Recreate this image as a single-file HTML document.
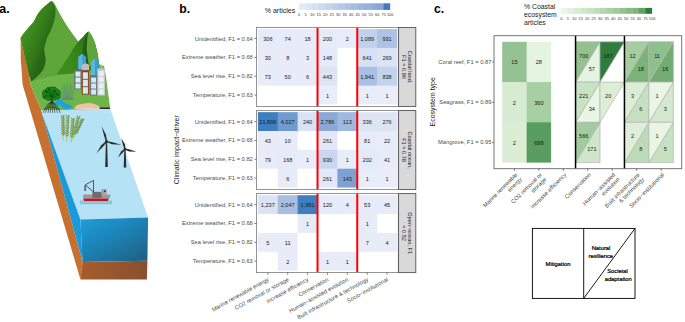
<!DOCTYPE html>
<html><head><meta charset="utf-8"><style>
html,body{margin:0;padding:0;background:#fff;width:685px;height:322px;overflow:hidden;}
svg{display:block;}
text{font-family:"Liberation Sans", sans-serif;}
</style></head><body>
<svg width="685" height="322" viewBox="0 0 685 322">
<rect width="685" height="322" fill="#fff"/>
<g id="panelA">
<text x="-0.70" y="13.10" font-size="12.4" fill="#000" text-anchor="start" font-weight="bold">a.</text>
<defs>
<linearGradient id="frontG" x1="0.1" y1="0" x2="0.9" y2="1">
<stop offset="0" stop-color="#1e9cd8"/><stop offset="0.4" stop-color="#1b86bb"/><stop offset="0.75" stop-color="#1e709a"/><stop offset="1" stop-color="#1e6184"/>
</linearGradient>
<linearGradient id="soilG" x1="0" y1="0" x2="1" y2="0">
<stop offset="0" stop-color="#a65d2c"/><stop offset="1" stop-color="#88502f"/>
</linearGradient>
<linearGradient id="m1G" gradientUnits="userSpaceOnUse" x1="24" y1="38" x2="47" y2="47">
<stop offset="0" stop-color="#3f8e21"/><stop offset="0.55" stop-color="#337c19"/><stop offset="1" stop-color="#276414"/>
</linearGradient>
<linearGradient id="m2G" gradientUnits="userSpaceOnUse" x1="62" y1="68" x2="88" y2="46">
<stop offset="0" stop-color="#3e8d1c"/><stop offset="0.5" stop-color="#368619"/><stop offset="1" stop-color="#2d7716"/>
</linearGradient>
<linearGradient id="m2B" gradientUnits="userSpaceOnUse" x1="77" y1="0" x2="87.5" y2="0">
<stop offset="0" stop-color="#225c12" stop-opacity="0"/><stop offset="0.55" stop-color="#225c12" stop-opacity="0.75"/><stop offset="1" stop-color="#1f5711" stop-opacity="1"/>
</linearGradient>
</defs>
<path d="M20.6,38 L25.5,60 L29,75 L30.5,84.3 L41.2,110 L82.6,262 L80.5,279.6 L22.5,84.3 L22,75 L20.8,60 Z" fill="#c6712f"/>
<path d="M29,75 L28,70 L60,66 L80,62 L98.8,64 L104,66 L105.7,75 L110.3,108.9 L41.2,110.5 L41.2,110 L30.5,84.3 Z" fill="#6db449"/>
<path d="M20.6,38 C23.5,33.5 28,28 32.3,23.6 C34.5,20.5 35.8,17.5 37.2,14.9 C39.2,11.5 41.2,9.2 43.4,7.4 C46,5.2 49,2.6 51.7,1 C53.5,2 55.5,5 57.1,8.7 C60,14 63,19.5 65.8,23.9 C69,29 72.5,33.5 75.6,38 L80,43.5 L80,72 C76,72.5 70,73.5 65,74.2 C60,74.8 56,75.4 52.2,76.2 C48,77 44.5,77.6 41.3,78.4 C37,79.5 34,80.5 31.5,81.6 L29,75 L25.5,60 Z" fill="#5ea63a"/>
<path d="M20.6,38 C23.5,33.5 28,28 32.3,23.6 C34.5,20.5 35.8,17.5 37.2,14.9 C39.2,11.5 41.2,9.2 43.4,7.4 C46,5.2 49,2.6 51.7,1 C53.5,3 55.5,6 55.6,10 C55.8,17 53.5,24 51,30 C48.5,35 46.5,38 46.1,41.2 C45,45 44,48 44.2,50.5 C44.5,54 45.8,57 45.7,59.8 C45.6,63 45,66 43.5,69.1 C41.5,73 36,78 31.5,81.6 L29,75 L25.5,60 Z" fill="url(#m1G)"/>
<path d="M88.4,31.3 C86.5,32.5 85,34.5 83.5,36.2 C82,37.8 80.5,39.2 79.3,40.4 C77,43 75.3,45.5 73.7,47.9 C72.2,50.2 71,52.6 69.6,55 C67.5,58.5 65.2,61.8 62.9,65 C60.8,68.2 58.6,71.4 56.5,74.6 C60.5,74.5 64.5,74.3 68.5,74 C71,73.6 73,73 75,72.4 C83,71 91,70.5 98.8,70 L98.8,62.2 C98.5,59 98,56 97.5,52.9 C96.5,48 95.5,44 93.8,39.9 C92,36 90,33 88.2,31.5 Z" fill="url(#m2G)"/>
<path d="M88.4,31.3 C86,36 83.5,42 82.5,48 C81.5,54 82,60 83,66 L89,66 C88.5,62 87.8,59 87.4,55.3 C86.9,52 86.6,49 86.8,46.6 C87,43 87.2,40 87.4,37.9 C87.8,35 88.2,33 88.4,31.3 Z" fill="url(#m2B)"/>
<path d="M88.4,31.3 C90.5,33 92,35.5 93,37.9 C94.5,41 95.5,44.5 96.1,47.9 C97,51 97.6,54.5 98,57.8 L98.8,66 L89,66 C88.5,62 87.8,59 87.4,55.3 C86.9,52 86.6,49 86.8,46.6 C87,43 87.2,40 87.4,37.9 C87.8,35 88.2,33 88.4,31.3 Z" fill="#5ea63a"/>
<path d="M41.3,110.5 L110.3,108.9 L148.1,217.4 L80.4,219.6 L42.4,114.5 Z" fill="#b5e2f5"/>
<path d="M42.4,114.5 L80.4,219.6 L82.6,262 Z" fill="#1a9ad8"/>
<path d="M80.4,219.6 L148.1,217.4 L147.4,260.8 L82.6,262 Z" fill="url(#frontG)"/>
<path d="M82.6,262 L147.4,260.8 L146.9,279.4 L80.5,279.6 Z" fill="url(#soilG)"/>
<path d="M74.3,109.1 C74.8,106.5 76.5,104.8 79,104.5 C81,104.3 82.5,104 84.5,103.6 C86.5,103.2 88,102.9 89.5,103.1 C92,103.4 95,104.2 97.5,105.2 C99,105.9 99.9,107 99.9,109.1 Z" fill="#efc2a4"/>
<path d="M74.3,109.1 C80,108 92,108 99.9,109.1 Z" fill="#f6dccb"/>
<path d="M99.9,107.5 L109.8,107.5 L110,109.1 L99.9,109.1 Z" fill="#3a2628"/>
<path d="M54.3,103.4 C55.5,101 58,98.5 59.7,97.9 C61,98 61.5,99.5 61.4,100.6 C63.5,102.5 66,103.5 68.4,104.5 C70.5,105.3 72,106 71.7,107.2 C71,108.8 69.5,109.3 68.4,109.1 C66.5,109 65,108.8 64.1,108.3 C62.5,107.3 61.5,106 60.8,105.5 C58.5,105.2 56.5,105.5 55.4,105.2 C54.5,104.8 54,104 54.3,103.4 Z" fill="#1ba2df"/>
<path d="M61.5,100 C62,98 63,97 65,96.5 L70,96.5 C72,97 73,98 73.5,100 Z" fill="#5e8f6e"/>
<path d="M62.5,99 Q61.0,93.5 61.5,88" stroke="#5f9676" stroke-width="0.8" fill="none"/>
<path d="M63.5,99 Q63.25,91.5 63,84" stroke="#5f9676" stroke-width="0.8" fill="none"/>
<path d="M64.5,99 Q66.0,90.75 65.5,82.5" stroke="#5f9676" stroke-width="0.8" fill="none"/>
<path d="M65.5,99 Q64.0,92.5 64.5,86" stroke="#5f9676" stroke-width="0.8" fill="none"/>
<path d="M66.5,99 Q68.0,91.0 67.5,83" stroke="#5f9676" stroke-width="0.8" fill="none"/>
<path d="M67.5,99 Q70.0,92.0 69.5,85" stroke="#5f9676" stroke-width="0.8" fill="none"/>
<path d="M68.5,99 Q70.5,90.75 70.5,82.5" stroke="#5f9676" stroke-width="0.8" fill="none"/>
<path d="M69.5,99 Q72.25,92.5 72,86" stroke="#5f9676" stroke-width="0.8" fill="none"/>
<path d="M70.5,99 Q73.0,94.0 73.5,89" stroke="#5f9676" stroke-width="0.8" fill="none"/>
<path d="M71.5,99 Q73.15,95.5 73.8,92" stroke="#5f9676" stroke-width="0.8" fill="none"/>
<path d="M66,99 Q66.0,93.5 66,88" stroke="#5f9676" stroke-width="0.8" fill="none"/>
<path d="M68,99 Q67.75,94.0 67.5,89" stroke="#5f9676" stroke-width="0.8" fill="none"/>
<path d="M51.8,101.5 Q47.0,103.5 43,112.8" stroke="#1e1e1e" stroke-width="0.6" fill="none"/>
<path d="M51.8,101.5 Q48.3,103.5 45.5,112.8" stroke="#1e1e1e" stroke-width="0.6" fill="none"/>
<path d="M51.8,101.5 Q49.7,103.5 48,112.8" stroke="#1e1e1e" stroke-width="0.6" fill="none"/>
<path d="M51.8,101.5 Q51.0,103.5 50.3,112.8" stroke="#1e1e1e" stroke-width="0.6" fill="none"/>
<path d="M51.8,101.5 Q52.3,103.5 52.7,112.8" stroke="#1e1e1e" stroke-width="0.6" fill="none"/>
<path d="M51.8,101.5 Q53.6,103.5 55,112.8" stroke="#1e1e1e" stroke-width="0.6" fill="none"/>
<path d="M51.8,101.5 Q54.9,103.5 57.5,112.8" stroke="#1e1e1e" stroke-width="0.6" fill="none"/>
<path d="M51.8,101.5 Q56.5,103.5 60.3,112.8" stroke="#1e1e1e" stroke-width="0.6" fill="none"/>
<path d="M44,110 Q51.8,104 60,110" stroke="#1e1e1e" stroke-width="0.5" fill="none"/>
<path d="M50.9,95.5 L52.4,95.5 L52.7,103 L50.8,103 Z" fill="#4a2c14"/>
<path d="M43,96 C41.5,93 43,90 45.5,89.5 C46.5,87.5 49,86.8 51,87.5 C53,86.5 56,87 57,89 C59.5,89.5 61,92 60,94.5 C61,97 59,99.5 56.5,99 C55,100.5 52.5,100.5 51.5,99.5 C49.5,100.8 46.5,100.5 45.5,98.8 C43.5,99 42.3,97.5 43,96 Z" fill="#188519" stroke="#0b4d0e" stroke-width="0.6"/>
<path d="M51.7,96.5 L47,91.5" stroke="#0a4a0c" stroke-width="0.7"/>
<path d="M51.7,96.5 L49.5,89.5" stroke="#0a4a0c" stroke-width="0.7"/>
<path d="M51.7,96.5 L54,90" stroke="#0a4a0c" stroke-width="0.7"/>
<path d="M51.7,96.5 L57,93" stroke="#0a4a0c" stroke-width="0.7"/>
<path d="M51.7,96.5 L45.5,95.5" stroke="#0a4a0c" stroke-width="0.7"/>
<path d="M51.7,96.5 L56,97" stroke="#0a4a0c" stroke-width="0.7"/>
<circle cx="46.5" cy="92" r="1.4" fill="#0c5a10"/>
<circle cx="49" cy="89.5" r="1.2" fill="#0c5a10"/>
<circle cx="54.5" cy="91" r="1.5" fill="#0c5a10"/>
<circle cx="57.5" cy="94.5" r="1.3" fill="#0c5a10"/>
<circle cx="52" cy="97.5" r="1.2" fill="#0c5a10"/>
<circle cx="45" cy="96.5" r="1.0" fill="#0c5a10"/>
<path d="M78.3,57 L82.4,53.7 L86.1,57 L86.1,74 L78.3,74 Z" fill="#3a9fcf"/>
<path d="M78.3,57 L82.4,53.7 L82.4,74 L78.3,74 Z" fill="#5cb6de"/>
<path d="M91,61.5 L95,58.3 L98.8,61.5 L98.8,78 L91,78 Z" fill="#3a9fcf"/>
<path d="M91,61.5 L95,58.3 L95,78 L91,78 Z" fill="#5cb6de"/>
<path d="M81.7,65 Q85.4,62.2 89.1,65 L89.1,80 L81.7,80 Z" fill="#bdbdbd"/>
<rect x="74.2" y="69.3" width="7.5" height="20.1" fill="#6b6b6b"/>
<rect x="74.2" y="69.3" width="7.5" height="1.6" fill="#6b6b6b" opacity="0.7"/>
<rect x="75.40" y="71.50" width="5.10" height="5.07" fill="#d3ebf5"/>
<rect x="75.40" y="77.47" width="5.10" height="5.07" fill="#d3ebf5"/>
<rect x="75.40" y="83.43" width="5.10" height="5.07" fill="#d3ebf5"/>
<rect x="81.7" y="70.1" width="7.4" height="24.5" fill="#8a4a25"/>
<rect x="81.7" y="70.1" width="7.4" height="1.6" fill="#8a4a25" opacity="0.7"/>
<rect x="82.90" y="72.30" width="5.00" height="6.53" fill="#d3ebf5"/>
<rect x="82.90" y="79.73" width="5.00" height="6.53" fill="#d3ebf5"/>
<rect x="82.90" y="87.17" width="5.00" height="6.53" fill="#d3ebf5"/>
<rect x="89.9" y="75.3" width="7.4" height="20.2" fill="#707070"/>
<rect x="89.9" y="75.3" width="7.4" height="1.6" fill="#707070" opacity="0.7"/>
<rect x="91.10" y="77.50" width="5.00" height="5.10" fill="#cfe8f3"/>
<rect x="91.10" y="83.50" width="5.00" height="5.10" fill="#cfe8f3"/>
<rect x="91.10" y="89.50" width="5.00" height="5.10" fill="#cfe8f3"/>
<rect x="97.3" y="68.6" width="7.7" height="26.9" fill="#c6c6c6"/>
<rect x="97.3" y="68.6" width="7.7" height="1.6" fill="#c6c6c6" opacity="0.7"/>
<rect x="98.50" y="70.80" width="5.30" height="5.27" fill="#e2f1f8"/>
<rect x="98.50" y="76.97" width="5.30" height="5.27" fill="#e2f1f8"/>
<rect x="98.50" y="83.15" width="5.30" height="5.27" fill="#e2f1f8"/>
<rect x="98.50" y="89.32" width="5.30" height="5.27" fill="#e2f1f8"/>
<rect x="100.9" y="65.4" width="0.8" height="3.4" fill="#c6c6c6"/>
<path d="M63.3,140.5 Q62.2,128.5 62.7,116.5" stroke="#a9b64e" stroke-width="0.7" fill="none"/>
<ellipse cx="62.25" cy="134.10" rx="0.55" ry="1.5" fill="#86a046" transform="rotate(-36 62.25 134.10)"/>
<ellipse cx="64.05" cy="134.10" rx="0.55" ry="1.5" fill="#5b8446" transform="rotate(34 64.05 134.10)"/>
<ellipse cx="62.19" cy="131.85" rx="0.55" ry="1.5" fill="#86a046" transform="rotate(-36 62.19 131.85)"/>
<ellipse cx="63.99" cy="131.85" rx="0.55" ry="1.5" fill="#5b8446" transform="rotate(34 63.99 131.85)"/>
<ellipse cx="62.14" cy="129.60" rx="0.55" ry="1.5" fill="#86a046" transform="rotate(-36 62.14 129.60)"/>
<ellipse cx="63.94" cy="129.60" rx="0.55" ry="1.5" fill="#5b8446" transform="rotate(34 63.94 129.60)"/>
<ellipse cx="62.08" cy="127.35" rx="0.55" ry="1.5" fill="#86a046" transform="rotate(-36 62.08 127.35)"/>
<ellipse cx="63.88" cy="127.35" rx="0.55" ry="1.5" fill="#5b8446" transform="rotate(34 63.88 127.35)"/>
<ellipse cx="62.02" cy="125.10" rx="0.55" ry="1.5" fill="#86a046" transform="rotate(-36 62.02 125.10)"/>
<ellipse cx="63.82" cy="125.10" rx="0.55" ry="1.5" fill="#5b8446" transform="rotate(34 63.82 125.10)"/>
<ellipse cx="61.97" cy="122.85" rx="0.55" ry="1.5" fill="#86a046" transform="rotate(-36 61.97 122.85)"/>
<ellipse cx="63.77" cy="122.85" rx="0.55" ry="1.5" fill="#5b8446" transform="rotate(34 63.77 122.85)"/>
<ellipse cx="61.91" cy="120.60" rx="0.55" ry="1.5" fill="#86a046" transform="rotate(-36 61.91 120.60)"/>
<ellipse cx="63.71" cy="120.60" rx="0.55" ry="1.5" fill="#5b8446" transform="rotate(34 63.71 120.60)"/>
<ellipse cx="61.86" cy="118.35" rx="0.55" ry="1.5" fill="#86a046" transform="rotate(-36 61.86 118.35)"/>
<ellipse cx="63.66" cy="118.35" rx="0.55" ry="1.5" fill="#5b8446" transform="rotate(34 63.66 118.35)"/>
<ellipse cx="61.80" cy="116.10" rx="0.55" ry="1.5" fill="#86a046" transform="rotate(-36 61.80 116.10)"/>
<ellipse cx="63.60" cy="116.10" rx="0.55" ry="1.5" fill="#5b8446" transform="rotate(34 63.60 116.10)"/>
<path d="M66.6,142 Q66.4,129.2 67.7,116.5" stroke="#a9b64e" stroke-width="0.7" fill="none"/>
<ellipse cx="65.97" cy="135.22" rx="0.55" ry="1.5" fill="#86a046" transform="rotate(-33 65.97 135.22)"/>
<ellipse cx="67.78" cy="135.22" rx="0.55" ry="1.5" fill="#5b8446" transform="rotate(37 67.78 135.22)"/>
<ellipse cx="66.08" cy="132.83" rx="0.55" ry="1.5" fill="#86a046" transform="rotate(-33 66.08 132.83)"/>
<ellipse cx="67.88" cy="132.83" rx="0.55" ry="1.5" fill="#5b8446" transform="rotate(37 67.88 132.83)"/>
<ellipse cx="66.18" cy="130.44" rx="0.55" ry="1.5" fill="#86a046" transform="rotate(-33 66.18 130.44)"/>
<ellipse cx="67.98" cy="130.44" rx="0.55" ry="1.5" fill="#5b8446" transform="rotate(37 67.98 130.44)"/>
<ellipse cx="66.28" cy="128.05" rx="0.55" ry="1.5" fill="#86a046" transform="rotate(-33 66.28 128.05)"/>
<ellipse cx="68.08" cy="128.05" rx="0.55" ry="1.5" fill="#5b8446" transform="rotate(37 68.08 128.05)"/>
<ellipse cx="66.39" cy="125.66" rx="0.55" ry="1.5" fill="#86a046" transform="rotate(-33 66.39 125.66)"/>
<ellipse cx="68.19" cy="125.66" rx="0.55" ry="1.5" fill="#5b8446" transform="rotate(37 68.19 125.66)"/>
<ellipse cx="66.49" cy="123.27" rx="0.55" ry="1.5" fill="#86a046" transform="rotate(-33 66.49 123.27)"/>
<ellipse cx="68.29" cy="123.27" rx="0.55" ry="1.5" fill="#5b8446" transform="rotate(37 68.29 123.27)"/>
<ellipse cx="66.59" cy="120.88" rx="0.55" ry="1.5" fill="#86a046" transform="rotate(-33 66.59 120.88)"/>
<ellipse cx="68.39" cy="120.88" rx="0.55" ry="1.5" fill="#5b8446" transform="rotate(37 68.39 120.88)"/>
<ellipse cx="66.70" cy="118.49" rx="0.55" ry="1.5" fill="#86a046" transform="rotate(-33 66.70 118.49)"/>
<ellipse cx="68.50" cy="118.49" rx="0.55" ry="1.5" fill="#5b8446" transform="rotate(37 68.50 118.49)"/>
<ellipse cx="66.80" cy="116.10" rx="0.55" ry="1.5" fill="#86a046" transform="rotate(-33 66.80 116.10)"/>
<ellipse cx="68.60" cy="116.10" rx="0.55" ry="1.5" fill="#5b8446" transform="rotate(37 68.60 116.10)"/>
<path d="M71.2,142.5 Q71.2,130.9 72.8,119.3" stroke="#a9b64e" stroke-width="0.7" fill="none"/>
<ellipse cx="70.70" cy="136.30" rx="0.55" ry="1.5" fill="#86a046" transform="rotate(-31 70.70 136.30)"/>
<ellipse cx="72.50" cy="136.30" rx="0.55" ry="1.5" fill="#5b8446" transform="rotate(39 72.50 136.30)"/>
<ellipse cx="70.85" cy="134.12" rx="0.55" ry="1.5" fill="#86a046" transform="rotate(-31 70.85 134.12)"/>
<ellipse cx="72.65" cy="134.12" rx="0.55" ry="1.5" fill="#5b8446" transform="rotate(39 72.65 134.12)"/>
<ellipse cx="71.00" cy="131.95" rx="0.55" ry="1.5" fill="#86a046" transform="rotate(-31 71.00 131.95)"/>
<ellipse cx="72.80" cy="131.95" rx="0.55" ry="1.5" fill="#5b8446" transform="rotate(39 72.80 131.95)"/>
<ellipse cx="71.15" cy="129.78" rx="0.55" ry="1.5" fill="#86a046" transform="rotate(-31 71.15 129.78)"/>
<ellipse cx="72.95" cy="129.78" rx="0.55" ry="1.5" fill="#5b8446" transform="rotate(39 72.95 129.78)"/>
<ellipse cx="71.30" cy="127.60" rx="0.55" ry="1.5" fill="#86a046" transform="rotate(-31 71.30 127.60)"/>
<ellipse cx="73.10" cy="127.60" rx="0.55" ry="1.5" fill="#5b8446" transform="rotate(39 73.10 127.60)"/>
<ellipse cx="71.45" cy="125.42" rx="0.55" ry="1.5" fill="#86a046" transform="rotate(-31 71.45 125.42)"/>
<ellipse cx="73.25" cy="125.42" rx="0.55" ry="1.5" fill="#5b8446" transform="rotate(39 73.25 125.42)"/>
<ellipse cx="71.60" cy="123.25" rx="0.55" ry="1.5" fill="#86a046" transform="rotate(-31 71.60 123.25)"/>
<ellipse cx="73.40" cy="123.25" rx="0.55" ry="1.5" fill="#5b8446" transform="rotate(39 73.40 123.25)"/>
<ellipse cx="71.75" cy="121.07" rx="0.55" ry="1.5" fill="#86a046" transform="rotate(-31 71.75 121.07)"/>
<ellipse cx="73.55" cy="121.07" rx="0.55" ry="1.5" fill="#5b8446" transform="rotate(39 73.55 121.07)"/>
<ellipse cx="71.90" cy="118.90" rx="0.55" ry="1.5" fill="#86a046" transform="rotate(-31 71.90 118.90)"/>
<ellipse cx="73.70" cy="118.90" rx="0.55" ry="1.5" fill="#5b8446" transform="rotate(39 73.70 118.90)"/>
<path d="M72.3,139.5 Q74.5,128.3 78.4,117.2" stroke="#a9b64e" stroke-width="0.7" fill="none"/>
<ellipse cx="72.92" cy="133.53" rx="0.55" ry="1.5" fill="#86a046" transform="rotate(-20 72.92 133.53)"/>
<ellipse cx="74.73" cy="133.53" rx="0.55" ry="1.5" fill="#5b8446" transform="rotate(50 74.73 133.53)"/>
<ellipse cx="73.50" cy="131.43" rx="0.55" ry="1.5" fill="#86a046" transform="rotate(-20 73.50 131.43)"/>
<ellipse cx="75.30" cy="131.43" rx="0.55" ry="1.5" fill="#5b8446" transform="rotate(50 75.30 131.43)"/>
<ellipse cx="74.07" cy="129.34" rx="0.55" ry="1.5" fill="#86a046" transform="rotate(-20 74.07 129.34)"/>
<ellipse cx="75.87" cy="129.34" rx="0.55" ry="1.5" fill="#5b8446" transform="rotate(50 75.87 129.34)"/>
<ellipse cx="74.64" cy="127.25" rx="0.55" ry="1.5" fill="#86a046" transform="rotate(-20 74.64 127.25)"/>
<ellipse cx="76.44" cy="127.25" rx="0.55" ry="1.5" fill="#5b8446" transform="rotate(50 76.44 127.25)"/>
<ellipse cx="75.21" cy="125.16" rx="0.55" ry="1.5" fill="#86a046" transform="rotate(-20 75.21 125.16)"/>
<ellipse cx="77.01" cy="125.16" rx="0.55" ry="1.5" fill="#5b8446" transform="rotate(50 77.01 125.16)"/>
<ellipse cx="75.78" cy="123.07" rx="0.55" ry="1.5" fill="#86a046" transform="rotate(-20 75.78 123.07)"/>
<ellipse cx="77.58" cy="123.07" rx="0.55" ry="1.5" fill="#5b8446" transform="rotate(50 77.58 123.07)"/>
<ellipse cx="76.36" cy="120.98" rx="0.55" ry="1.5" fill="#86a046" transform="rotate(-20 76.36 120.98)"/>
<ellipse cx="78.16" cy="120.98" rx="0.55" ry="1.5" fill="#5b8446" transform="rotate(50 78.16 120.98)"/>
<ellipse cx="76.93" cy="118.89" rx="0.55" ry="1.5" fill="#86a046" transform="rotate(-20 76.93 118.89)"/>
<ellipse cx="78.73" cy="118.89" rx="0.55" ry="1.5" fill="#5b8446" transform="rotate(50 78.73 118.89)"/>
<ellipse cx="77.50" cy="116.80" rx="0.55" ry="1.5" fill="#86a046" transform="rotate(-20 77.50 116.80)"/>
<ellipse cx="79.30" cy="116.80" rx="0.55" ry="1.5" fill="#5b8446" transform="rotate(50 79.30 116.80)"/>
<path d="M74,137.5 Q77.4,128.7 82.3,119.8" stroke="#a9b64e" stroke-width="0.7" fill="none"/>
<ellipse cx="75.17" cy="132.67" rx="0.55" ry="1.5" fill="#86a046" transform="rotate(-10 75.17 132.67)"/>
<ellipse cx="76.98" cy="132.67" rx="0.55" ry="1.5" fill="#5b8446" transform="rotate(60 76.98 132.67)"/>
<ellipse cx="75.95" cy="131.02" rx="0.55" ry="1.5" fill="#86a046" transform="rotate(-10 75.95 131.02)"/>
<ellipse cx="77.75" cy="131.02" rx="0.55" ry="1.5" fill="#5b8446" transform="rotate(60 77.75 131.02)"/>
<ellipse cx="76.73" cy="129.36" rx="0.55" ry="1.5" fill="#86a046" transform="rotate(-10 76.73 129.36)"/>
<ellipse cx="78.53" cy="129.36" rx="0.55" ry="1.5" fill="#5b8446" transform="rotate(60 78.53 129.36)"/>
<ellipse cx="77.51" cy="127.70" rx="0.55" ry="1.5" fill="#86a046" transform="rotate(-10 77.51 127.70)"/>
<ellipse cx="79.31" cy="127.70" rx="0.55" ry="1.5" fill="#5b8446" transform="rotate(60 79.31 127.70)"/>
<ellipse cx="78.29" cy="126.04" rx="0.55" ry="1.5" fill="#86a046" transform="rotate(-10 78.29 126.04)"/>
<ellipse cx="80.09" cy="126.04" rx="0.55" ry="1.5" fill="#5b8446" transform="rotate(60 80.09 126.04)"/>
<ellipse cx="79.07" cy="124.38" rx="0.55" ry="1.5" fill="#86a046" transform="rotate(-10 79.07 124.38)"/>
<ellipse cx="80.87" cy="124.38" rx="0.55" ry="1.5" fill="#5b8446" transform="rotate(60 80.87 124.38)"/>
<ellipse cx="79.84" cy="122.72" rx="0.55" ry="1.5" fill="#86a046" transform="rotate(-10 79.84 122.72)"/>
<ellipse cx="81.64" cy="122.72" rx="0.55" ry="1.5" fill="#5b8446" transform="rotate(60 81.64 122.72)"/>
<ellipse cx="80.62" cy="121.06" rx="0.55" ry="1.5" fill="#86a046" transform="rotate(-10 80.62 121.06)"/>
<ellipse cx="82.42" cy="121.06" rx="0.55" ry="1.5" fill="#5b8446" transform="rotate(60 82.42 121.06)"/>
<ellipse cx="81.40" cy="119.40" rx="0.55" ry="1.5" fill="#86a046" transform="rotate(-10 81.40 119.40)"/>
<ellipse cx="83.20" cy="119.40" rx="0.55" ry="1.5" fill="#5b8446" transform="rotate(60 83.20 119.40)"/>
<path d="M105.9,141.5 L107.1,141.5 L107.8,167 L105.2,167 Z" fill="#2b2b2b"/>
<path d="M107.07,141.32 L106.01,134.97 L101.7,126.3 L104.01,135.60 L105.93,141.68 Z" fill="#2b2b2b"/>
<path d="M106.37,142.09 L112.09,144.28 L121.3,144.8 L112.55,142.23 L106.63,140.91 Z" fill="#2b2b2b"/>
<path d="M106.04,141.11 L101.28,145.33 L96.3,153.5 L102.88,146.69 L106.96,141.89 Z" fill="#2b2b2b"/>
<circle cx="106.5" cy="141.5" r="1.4" fill="#2b2b2b"/>
<path d="M124.4,149.1 L125.6,149.1 L126.3,167.6 L123.7,167.6 Z" fill="#2b2b2b"/>
<path d="M125.57,148.91 L124.94,144.29 L121.3,138.3 L122.95,144.97 L124.43,149.29 Z" fill="#2b2b2b"/>
<path d="M124.87,149.69 L129.27,151.60 L136.5,151.7 L129.73,149.55 L125.13,148.51 Z" fill="#2b2b2b"/>
<path d="M124.54,148.71 L121.05,151.45 L118,157.4 L122.66,152.81 L125.46,149.49 Z" fill="#2b2b2b"/>
<circle cx="125" cy="149.1" r="1.4" fill="#2b2b2b"/>
<rect x="80" y="200.5" width="32" height="3.8" fill="#86c8da"/>
<path d="M83.2,194.6 L110.9,194.6 L109.5,198.4 L83.2,198.4 Z" fill="#9a9a9a"/>
<path d="M83.2,198.4 L108.7,198.4 L108,201 L84,201 Z" fill="#c4161c"/>
<rect x="92.4" y="191.8" width="9.2" height="6.2" fill="#6e6e6e"/>
<rect x="101.6" y="189" width="4.9" height="5.6" fill="#a0a0a0"/>
<rect x="104" y="190.5" width="2" height="1.5" fill="#444"/>
<path d="M93.5,192 L93.5,180.4 L85.3,184.8 L93.5,192" stroke="#333" stroke-width="0.8" fill="none"/>
<rect x="84.3" y="185" width="1.8" height="6" fill="#7a5c8a"/>
</g>
<g id="panelB">
<text x="179.20" y="12.95" font-size="12.2" fill="#000" text-anchor="start" font-weight="bold">b.</text>
<text x="264.80" y="12.60" font-size="7" fill="#1a1a1a" text-anchor="start">% articles</text>
<rect x="298.90" y="3.3" width="6.80" height="6.6" fill="#e5ecf9"/>
<rect x="305.40" y="3.3" width="6.80" height="6.6" fill="#dde6f6"/>
<rect x="311.90" y="3.3" width="6.80" height="6.6" fill="#d5e0f3"/>
<rect x="318.40" y="3.3" width="6.80" height="6.6" fill="#cddaf0"/>
<rect x="324.90" y="3.3" width="6.80" height="6.6" fill="#c5d4ed"/>
<rect x="331.40" y="3.3" width="6.80" height="6.6" fill="#bdceea"/>
<rect x="337.90" y="3.3" width="6.80" height="6.6" fill="#b6c8e8"/>
<rect x="344.40" y="3.3" width="6.80" height="6.6" fill="#aec2e5"/>
<rect x="350.90" y="3.3" width="6.80" height="6.6" fill="#a6bce2"/>
<rect x="357.40" y="3.3" width="6.80" height="6.6" fill="#9eb6df"/>
<rect x="363.90" y="3.3" width="6.80" height="6.6" fill="#96b0dc"/>
<rect x="370.40" y="3.3" width="6.80" height="6.6" fill="#8eaad9"/>
<rect x="376.90" y="3.3" width="6.80" height="6.6" fill="#86a4d6"/>
<rect x="383.40" y="3.3" width="6.80" height="6.6" fill="#3d7cbf"/>
<text x="299.20" y="15.80" font-size="3.9" fill="#333" text-anchor="middle">0</text>
<text x="305.70" y="15.80" font-size="3.9" fill="#333" text-anchor="middle">5</text>
<text x="312.20" y="15.80" font-size="3.9" fill="#333" text-anchor="middle">10</text>
<text x="318.70" y="15.80" font-size="3.9" fill="#333" text-anchor="middle">15</text>
<text x="325.20" y="15.80" font-size="3.9" fill="#333" text-anchor="middle">20</text>
<text x="331.70" y="15.80" font-size="3.9" fill="#333" text-anchor="middle">25</text>
<text x="338.20" y="15.80" font-size="3.9" fill="#333" text-anchor="middle">30</text>
<text x="344.70" y="15.80" font-size="3.9" fill="#333" text-anchor="middle">35</text>
<text x="351.20" y="15.80" font-size="3.9" fill="#333" text-anchor="middle">40</text>
<text x="357.70" y="15.80" font-size="3.9" fill="#333" text-anchor="middle">45</text>
<text x="364.20" y="15.80" font-size="3.9" fill="#333" text-anchor="middle">50</text>
<text x="370.70" y="15.80" font-size="3.9" fill="#333" text-anchor="middle">55</text>
<text x="377.20" y="15.80" font-size="3.9" fill="#333" text-anchor="middle">60</text>
<text x="383.70" y="15.80" font-size="3.9" fill="#333" text-anchor="middle">75</text>
<text x="390.20" y="15.80" font-size="3.9" fill="#333" text-anchor="middle">100</text>
<rect x="257.90" y="29.10" width="20.67" height="19.65" fill="#e6ebf9"/>
<text x="267.83" y="40.98" font-size="5.6" fill="#1a1a1a" text-anchor="middle">306</text>
<rect x="277.77" y="29.10" width="20.67" height="19.65" fill="#e7ecf9"/>
<text x="287.70" y="40.98" font-size="5.6" fill="#1a1a1a" text-anchor="middle">74</text>
<rect x="297.64" y="29.10" width="20.67" height="19.65" fill="#e8ecf9"/>
<text x="307.57" y="40.98" font-size="5.6" fill="#1a1a1a" text-anchor="middle">18</text>
<rect x="317.51" y="29.10" width="20.67" height="19.65" fill="#e6ebf9"/>
<text x="327.44" y="40.98" font-size="5.6" fill="#1a1a1a" text-anchor="middle">200</text>
<rect x="337.38" y="29.10" width="20.67" height="18.85" fill="#e9edf9"/>
<text x="347.31" y="40.98" font-size="5.6" fill="#1a1a1a" text-anchor="middle">2</text>
<rect x="357.25" y="29.10" width="20.67" height="19.65" fill="#c3d2ec"/>
<text x="367.19" y="40.98" font-size="5.6" fill="#1a1a1a" text-anchor="middle">1,089</text>
<rect x="377.12" y="29.10" width="19.87" height="19.65" fill="#adc2e4"/>
<text x="387.06" y="40.98" font-size="5.6" fill="#1a1a1a" text-anchor="middle">931</text>
<rect x="257.90" y="47.95" width="20.67" height="19.65" fill="#e8ecf9"/>
<text x="267.83" y="59.83" font-size="5.6" fill="#1a1a1a" text-anchor="middle">30</text>
<rect x="277.77" y="47.95" width="20.67" height="19.65" fill="#e8ecf9"/>
<text x="287.70" y="59.83" font-size="5.6" fill="#1a1a1a" text-anchor="middle">8</text>
<rect x="297.64" y="47.95" width="20.67" height="19.65" fill="#e8ecf9"/>
<text x="307.57" y="59.83" font-size="5.6" fill="#1a1a1a" text-anchor="middle">3</text>
<rect x="317.51" y="47.95" width="19.87" height="19.65" fill="#e4eaf8"/>
<text x="327.44" y="59.83" font-size="5.6" fill="#1a1a1a" text-anchor="middle">148</text>
<rect x="357.25" y="47.95" width="20.67" height="19.65" fill="#d8e1f3"/>
<text x="367.19" y="59.83" font-size="5.6" fill="#1a1a1a" text-anchor="middle">641</text>
<rect x="377.12" y="47.95" width="19.87" height="19.65" fill="#dce4f4"/>
<text x="387.06" y="59.83" font-size="5.6" fill="#1a1a1a" text-anchor="middle">269</text>
<rect x="257.90" y="66.80" width="20.67" height="18.85" fill="#e8ecf9"/>
<text x="267.83" y="78.68" font-size="5.6" fill="#1a1a1a" text-anchor="middle">73</text>
<rect x="277.77" y="66.80" width="20.67" height="18.85" fill="#e8ecf9"/>
<text x="287.70" y="78.68" font-size="5.6" fill="#1a1a1a" text-anchor="middle">50</text>
<rect x="297.64" y="66.80" width="20.67" height="18.85" fill="#e8ecf9"/>
<text x="307.57" y="78.68" font-size="5.6" fill="#1a1a1a" text-anchor="middle">6</text>
<rect x="317.51" y="66.80" width="19.87" height="19.65" fill="#dde5f5"/>
<text x="327.44" y="78.68" font-size="5.6" fill="#1a1a1a" text-anchor="middle">443</text>
<rect x="357.25" y="66.80" width="20.67" height="19.65" fill="#a9bfe3"/>
<text x="367.19" y="78.68" font-size="5.6" fill="#1a1a1a" text-anchor="middle">1,941</text>
<rect x="377.12" y="66.80" width="19.87" height="19.65" fill="#c4d3ec"/>
<text x="387.06" y="78.68" font-size="5.6" fill="#1a1a1a" text-anchor="middle">838</text>
<rect x="317.51" y="85.65" width="19.87" height="18.85" fill="#e9edf9"/>
<text x="327.44" y="97.53" font-size="5.6" fill="#1a1a1a" text-anchor="middle">1</text>
<rect x="357.25" y="85.65" width="20.67" height="18.85" fill="#e9edf9"/>
<text x="367.19" y="97.53" font-size="5.6" fill="#1a1a1a" text-anchor="middle">1</text>
<rect x="377.12" y="85.65" width="19.87" height="18.85" fill="#e9edf9"/>
<text x="387.06" y="97.53" font-size="5.6" fill="#1a1a1a" text-anchor="middle">1</text>
<rect x="316.51" y="27.50" width="2" height="79.00" fill="#ff0000"/>
<rect x="356.25" y="27.50" width="2" height="79.00" fill="#ff0000"/>
<rect x="256.50" y="27.50" width="141.80" height="79.00" fill="none" stroke="#7a7a7a" stroke-width="0.8"/>
<rect x="398.60" y="27.50" width="17.2" height="79.00" fill="#d9d9d9" stroke="#555" stroke-width="0.9"/>
<text transform="translate(407.20,67.00) rotate(90)" font-size="5.6" fill="#1a1a1a" text-anchor="middle"><tspan x="0" y="-0.5">Coastal land,</tspan><tspan x="0" y="5.0">F1 = 0.86</tspan></text>
<text x="252.80" y="40.53" font-size="5.75" fill="#4d4d4d" text-anchor="end">Unidentified, F1 = 0.64</text>
<path d="M254.30,38.53 H256.50" stroke="#333" stroke-width="0.6"/>
<text x="252.80" y="59.38" font-size="5.75" fill="#4d4d4d" text-anchor="end">Extreme weather, F1 = 0.68</text>
<path d="M254.30,57.38 H256.50" stroke="#333" stroke-width="0.6"/>
<text x="252.80" y="78.23" font-size="5.75" fill="#4d4d4d" text-anchor="end">Sea level rise, F1 = 0.82</text>
<path d="M254.30,76.23 H256.50" stroke="#333" stroke-width="0.6"/>
<text x="252.80" y="97.08" font-size="5.75" fill="#4d4d4d" text-anchor="end">Temperature, F1 = 0.63</text>
<path d="M254.30,95.08 H256.50" stroke="#333" stroke-width="0.6"/>
<rect x="257.90" y="112.15" width="20.67" height="19.65" fill="#3f7fc0"/>
<text x="267.83" y="124.02" font-size="5.6" fill="#1a1a1a" text-anchor="middle">21,806</text>
<rect x="277.77" y="112.15" width="20.67" height="19.65" fill="#6f9bd1"/>
<text x="287.70" y="124.02" font-size="5.6" fill="#1a1a1a" text-anchor="middle">4,027</text>
<rect x="297.64" y="112.15" width="20.67" height="18.85" fill="#d9e3f4"/>
<text x="307.57" y="124.02" font-size="5.6" fill="#1a1a1a" text-anchor="middle">240</text>
<rect x="317.51" y="112.15" width="20.67" height="19.65" fill="#8aa9d6"/>
<text x="327.44" y="124.02" font-size="5.6" fill="#1a1a1a" text-anchor="middle">2,786</text>
<rect x="337.38" y="112.15" width="20.67" height="18.85" fill="#9fb9e0"/>
<text x="347.31" y="124.02" font-size="5.6" fill="#1a1a1a" text-anchor="middle">113</text>
<rect x="357.25" y="112.15" width="20.67" height="19.65" fill="#dde5f5"/>
<text x="367.19" y="124.02" font-size="5.6" fill="#1a1a1a" text-anchor="middle">336</text>
<rect x="377.12" y="112.15" width="19.87" height="19.65" fill="#dde5f5"/>
<text x="387.06" y="124.02" font-size="5.6" fill="#1a1a1a" text-anchor="middle">276</text>
<rect x="257.90" y="131.00" width="20.67" height="19.65" fill="#e8ecf9"/>
<text x="267.83" y="142.88" font-size="5.6" fill="#1a1a1a" text-anchor="middle">43</text>
<rect x="277.77" y="131.00" width="19.87" height="19.65" fill="#e8ecf9"/>
<text x="287.70" y="142.88" font-size="5.6" fill="#1a1a1a" text-anchor="middle">10</text>
<rect x="317.51" y="131.00" width="19.87" height="19.65" fill="#e2e8f7"/>
<text x="327.44" y="142.88" font-size="5.6" fill="#1a1a1a" text-anchor="middle">261</text>
<rect x="357.25" y="131.00" width="20.67" height="19.65" fill="#e6ebf9"/>
<text x="367.19" y="142.88" font-size="5.6" fill="#1a1a1a" text-anchor="middle">81</text>
<rect x="377.12" y="131.00" width="19.87" height="19.65" fill="#e8ecf9"/>
<text x="387.06" y="142.88" font-size="5.6" fill="#1a1a1a" text-anchor="middle">22</text>
<rect x="257.90" y="149.85" width="20.67" height="18.85" fill="#e8ecf9"/>
<text x="267.83" y="161.72" font-size="5.6" fill="#1a1a1a" text-anchor="middle">79</text>
<rect x="277.77" y="149.85" width="20.67" height="19.65" fill="#e6ebf9"/>
<text x="287.70" y="161.72" font-size="5.6" fill="#1a1a1a" text-anchor="middle">168</text>
<rect x="297.64" y="149.85" width="20.67" height="18.85" fill="#e9edf9"/>
<text x="307.57" y="161.72" font-size="5.6" fill="#1a1a1a" text-anchor="middle">1</text>
<rect x="317.51" y="149.85" width="20.67" height="19.65" fill="#c9d6ee"/>
<text x="327.44" y="161.72" font-size="5.6" fill="#1a1a1a" text-anchor="middle">930</text>
<rect x="337.38" y="149.85" width="20.67" height="19.65" fill="#e9edf9"/>
<text x="347.31" y="161.72" font-size="5.6" fill="#1a1a1a" text-anchor="middle">1</text>
<rect x="357.25" y="149.85" width="20.67" height="19.65" fill="#e5eaf8"/>
<text x="367.19" y="161.72" font-size="5.6" fill="#1a1a1a" text-anchor="middle">202</text>
<rect x="377.12" y="149.85" width="19.87" height="19.65" fill="#e8ecf9"/>
<text x="387.06" y="161.72" font-size="5.6" fill="#1a1a1a" text-anchor="middle">41</text>
<rect x="277.77" y="168.70" width="19.87" height="18.85" fill="#e8ecf9"/>
<text x="287.70" y="180.57" font-size="5.6" fill="#1a1a1a" text-anchor="middle">6</text>
<rect x="317.51" y="168.70" width="20.67" height="18.85" fill="#e2e8f7"/>
<text x="327.44" y="180.57" font-size="5.6" fill="#1a1a1a" text-anchor="middle">261</text>
<rect x="337.38" y="168.70" width="20.67" height="18.85" fill="#7ea1d3"/>
<text x="347.31" y="180.57" font-size="5.6" fill="#1a1a1a" text-anchor="middle">143</text>
<rect x="357.25" y="168.70" width="20.67" height="18.85" fill="#e9edf9"/>
<text x="367.19" y="180.57" font-size="5.6" fill="#1a1a1a" text-anchor="middle">1</text>
<rect x="377.12" y="168.70" width="19.87" height="18.85" fill="#e9edf9"/>
<text x="387.06" y="180.57" font-size="5.6" fill="#1a1a1a" text-anchor="middle">1</text>
<rect x="316.51" y="110.55" width="2" height="79.00" fill="#ff0000"/>
<rect x="356.25" y="110.55" width="2" height="79.00" fill="#ff0000"/>
<rect x="256.50" y="110.55" width="141.80" height="79.00" fill="none" stroke="#7a7a7a" stroke-width="0.8"/>
<rect x="398.60" y="110.55" width="17.2" height="79.00" fill="#d9d9d9" stroke="#555" stroke-width="0.9"/>
<text transform="translate(407.20,150.05) rotate(90)" font-size="5.6" fill="#1a1a1a" text-anchor="middle"><tspan x="0" y="-0.5">Coastal ocean,</tspan><tspan x="0" y="5.0">F1 = 0.78</tspan></text>
<text x="252.80" y="123.57" font-size="5.75" fill="#4d4d4d" text-anchor="end">Unidentified, F1 = 0.64</text>
<path d="M254.30,121.57 H256.50" stroke="#333" stroke-width="0.6"/>
<text x="252.80" y="142.43" font-size="5.75" fill="#4d4d4d" text-anchor="end">Extreme weather, F1 = 0.68</text>
<path d="M254.30,140.43 H256.50" stroke="#333" stroke-width="0.6"/>
<text x="252.80" y="161.28" font-size="5.75" fill="#4d4d4d" text-anchor="end">Sea level rise, F1 = 0.82</text>
<path d="M254.30,159.28 H256.50" stroke="#333" stroke-width="0.6"/>
<text x="252.80" y="180.12" font-size="5.75" fill="#4d4d4d" text-anchor="end">Temperature, F1 = 0.63</text>
<path d="M254.30,178.12 H256.50" stroke="#333" stroke-width="0.6"/>
<rect x="257.90" y="195.20" width="20.67" height="18.85" fill="#dbe3f4"/>
<text x="267.83" y="207.07" font-size="5.6" fill="#1a1a1a" text-anchor="middle">1,237</text>
<rect x="277.77" y="195.20" width="20.67" height="18.85" fill="#a9bfe2"/>
<text x="287.70" y="207.07" font-size="5.6" fill="#1a1a1a" text-anchor="middle">2,047</text>
<rect x="297.64" y="195.20" width="20.67" height="19.65" fill="#3f7fc0"/>
<text x="307.57" y="207.07" font-size="5.6" fill="#1a1a1a" text-anchor="middle">1,991</text>
<rect x="317.51" y="195.20" width="20.67" height="18.85" fill="#e6ebf9"/>
<text x="327.44" y="207.07" font-size="5.6" fill="#1a1a1a" text-anchor="middle">120</text>
<rect x="337.38" y="195.20" width="20.67" height="18.85" fill="#e8ecf9"/>
<text x="347.31" y="207.07" font-size="5.6" fill="#1a1a1a" text-anchor="middle">4</text>
<rect x="357.25" y="195.20" width="20.67" height="19.65" fill="#e8ecf9"/>
<text x="367.19" y="207.07" font-size="5.6" fill="#1a1a1a" text-anchor="middle">53</text>
<rect x="377.12" y="195.20" width="19.87" height="18.85" fill="#e8ecf9"/>
<text x="387.06" y="207.07" font-size="5.6" fill="#1a1a1a" text-anchor="middle">45</text>
<rect x="297.64" y="214.05" width="19.87" height="18.85" fill="#e6ebf9"/>
<text x="307.57" y="225.92" font-size="5.6" fill="#1a1a1a" text-anchor="middle">1</text>
<rect x="357.25" y="214.05" width="19.87" height="19.65" fill="#e8ecf9"/>
<text x="367.19" y="225.92" font-size="5.6" fill="#1a1a1a" text-anchor="middle">1</text>
<rect x="257.90" y="232.90" width="20.67" height="18.85" fill="#e8ecf9"/>
<text x="267.83" y="244.77" font-size="5.6" fill="#1a1a1a" text-anchor="middle">5</text>
<rect x="277.77" y="232.90" width="19.87" height="19.65" fill="#e8ecf9"/>
<text x="287.70" y="244.77" font-size="5.6" fill="#1a1a1a" text-anchor="middle">11</text>
<rect x="357.25" y="232.90" width="20.67" height="18.85" fill="#e8ecf9"/>
<text x="367.19" y="244.77" font-size="5.6" fill="#1a1a1a" text-anchor="middle">7</text>
<rect x="377.12" y="232.90" width="19.87" height="18.85" fill="#e8ecf9"/>
<text x="387.06" y="244.77" font-size="5.6" fill="#1a1a1a" text-anchor="middle">4</text>
<rect x="277.77" y="251.75" width="19.87" height="18.85" fill="#e8ecf9"/>
<text x="287.70" y="263.62" font-size="5.6" fill="#1a1a1a" text-anchor="middle">2</text>
<rect x="317.51" y="251.75" width="20.67" height="18.85" fill="#e8ecf9"/>
<text x="327.44" y="263.62" font-size="5.6" fill="#1a1a1a" text-anchor="middle">1</text>
<rect x="337.38" y="251.75" width="19.87" height="18.85" fill="#e8ecf9"/>
<text x="347.31" y="263.62" font-size="5.6" fill="#1a1a1a" text-anchor="middle">1</text>
<rect x="316.51" y="193.60" width="2" height="79.00" fill="#ff0000"/>
<rect x="356.25" y="193.60" width="2" height="79.00" fill="#ff0000"/>
<rect x="256.50" y="193.60" width="141.80" height="79.00" fill="none" stroke="#7a7a7a" stroke-width="0.8"/>
<rect x="398.60" y="193.60" width="17.2" height="79.00" fill="#d9d9d9" stroke="#555" stroke-width="0.9"/>
<text transform="translate(407.20,233.10) rotate(90)" font-size="5.6" fill="#1a1a1a" text-anchor="middle"><tspan x="0" y="-0.5">Open−ocean, F1</tspan><tspan x="0" y="5.0">= 0.52</tspan></text>
<text x="252.80" y="206.62" font-size="5.75" fill="#4d4d4d" text-anchor="end">Unidentified, F1 = 0.64</text>
<path d="M254.30,204.62 H256.50" stroke="#333" stroke-width="0.6"/>
<text x="252.80" y="225.47" font-size="5.75" fill="#4d4d4d" text-anchor="end">Extreme weather, F1 = 0.68</text>
<path d="M254.30,223.47 H256.50" stroke="#333" stroke-width="0.6"/>
<text x="252.80" y="244.32" font-size="5.75" fill="#4d4d4d" text-anchor="end">Sea level rise, F1 = 0.82</text>
<path d="M254.30,242.32 H256.50" stroke="#333" stroke-width="0.6"/>
<text x="252.80" y="263.18" font-size="5.75" fill="#4d4d4d" text-anchor="end">Temperature, F1 = 0.63</text>
<path d="M254.30,261.18 H256.50" stroke="#333" stroke-width="0.6"/>
<path d="M267.83,272.60 V274.80" stroke="#333" stroke-width="0.6"/>
<text transform="translate(269.33,280.60) rotate(-29)" font-size="5.7" fill="#4d4d4d" text-anchor="end">Marine renewable energy</text>
<path d="M287.70,272.60 V274.80" stroke="#333" stroke-width="0.6"/>
<text transform="translate(289.20,280.60) rotate(-29)" font-size="5.7" fill="#4d4d4d" text-anchor="end">CO2 removal or storage</text>
<path d="M307.57,272.60 V274.80" stroke="#333" stroke-width="0.6"/>
<text transform="translate(309.07,280.60) rotate(-29)" font-size="5.7" fill="#4d4d4d" text-anchor="end">Increase efficiency</text>
<path d="M327.44,272.60 V274.80" stroke="#333" stroke-width="0.6"/>
<text transform="translate(328.94,280.60) rotate(-29)" font-size="5.7" fill="#4d4d4d" text-anchor="end">Conservation</text>
<path d="M347.31,272.60 V274.80" stroke="#333" stroke-width="0.6"/>
<text transform="translate(348.81,280.60) rotate(-29)" font-size="5.7" fill="#4d4d4d" text-anchor="end">Human−assisted evolution</text>
<path d="M367.19,272.60 V274.80" stroke="#333" stroke-width="0.6"/>
<text transform="translate(368.69,280.60) rotate(-29)" font-size="5.7" fill="#4d4d4d" text-anchor="end">Built infrastructure &amp; technology</text>
<path d="M387.06,272.60 V274.80" stroke="#333" stroke-width="0.6"/>
<text transform="translate(388.56,280.60) rotate(-29)" font-size="5.7" fill="#4d4d4d" text-anchor="end">Socio−institutional</text>
<text transform="translate(179.2,149.7) rotate(-90)" font-size="7" fill="#1a1a1a" text-anchor="middle">Climatic impact−driver</text>
</g>
<g id="panelC">
<text x="434.00" y="13.10" font-size="12.2" fill="#000" text-anchor="start" font-weight="bold">c.</text>
<text font-size="6.9" fill="#1a1a1a"><tspan x="523.9" y="9.3">% Coastal</tspan><tspan x="523.9" y="16.9">ecosystem</tspan><tspan x="523.9" y="24.5">articles</tspan></text>
<rect x="561.00" y="7.9" width="6.79" height="5.9" fill="#e9f5e6"/>
<rect x="567.49" y="7.9" width="6.79" height="5.9" fill="#e1f1dd"/>
<rect x="573.97" y="7.9" width="6.79" height="5.9" fill="#d9edd4"/>
<rect x="580.46" y="7.9" width="6.79" height="5.9" fill="#d0e8ca"/>
<rect x="586.94" y="7.9" width="6.79" height="5.9" fill="#c7e3c1"/>
<rect x="593.43" y="7.9" width="6.79" height="5.9" fill="#bedeb7"/>
<rect x="599.91" y="7.9" width="6.79" height="5.9" fill="#b4d8ad"/>
<rect x="606.40" y="7.9" width="6.79" height="5.9" fill="#a9d1a3"/>
<rect x="612.89" y="7.9" width="6.79" height="5.9" fill="#9ecb98"/>
<rect x="619.37" y="7.9" width="6.79" height="5.9" fill="#93c48d"/>
<rect x="625.86" y="7.9" width="6.79" height="5.9" fill="#88bd82"/>
<rect x="632.34" y="7.9" width="6.79" height="5.9" fill="#7db677"/>
<rect x="638.83" y="7.9" width="6.79" height="5.9" fill="#62a260"/>
<rect x="645.31" y="7.9" width="6.79" height="5.9" fill="#2c7b37"/>
<text x="561.30" y="20.40" font-size="3.9" fill="#333" text-anchor="middle">0</text>
<text x="567.79" y="20.40" font-size="3.9" fill="#333" text-anchor="middle">5</text>
<text x="574.27" y="20.40" font-size="3.9" fill="#333" text-anchor="middle">10</text>
<text x="580.76" y="20.40" font-size="3.9" fill="#333" text-anchor="middle">15</text>
<text x="587.24" y="20.40" font-size="3.9" fill="#333" text-anchor="middle">20</text>
<text x="593.73" y="20.40" font-size="3.9" fill="#333" text-anchor="middle">25</text>
<text x="600.21" y="20.40" font-size="3.9" fill="#333" text-anchor="middle">30</text>
<text x="606.70" y="20.40" font-size="3.9" fill="#333" text-anchor="middle">35</text>
<text x="613.19" y="20.40" font-size="3.9" fill="#333" text-anchor="middle">40</text>
<text x="619.67" y="20.40" font-size="3.9" fill="#333" text-anchor="middle">45</text>
<text x="626.16" y="20.40" font-size="3.9" fill="#333" text-anchor="middle">50</text>
<text x="632.64" y="20.40" font-size="3.9" fill="#333" text-anchor="middle">55</text>
<text x="639.13" y="20.40" font-size="3.9" fill="#333" text-anchor="middle">60</text>
<text x="645.61" y="20.40" font-size="3.9" fill="#333" text-anchor="middle">75</text>
<text x="652.10" y="20.40" font-size="3.9" fill="#333" text-anchor="middle">100</text>
<rect x="502.20" y="41.80" width="25.25" height="41.07" fill="#94c293"/>
<text x="514.42" y="64.23" font-size="5.6" fill="#1a1a1a" text-anchor="middle">15</text>
<rect x="526.65" y="41.80" width="24.45" height="41.07" fill="#e5f3e1"/>
<text x="538.88" y="64.23" font-size="5.6" fill="#1a1a1a" text-anchor="middle">28</text>
<rect x="502.20" y="82.07" width="25.25" height="41.07" fill="#d7ebd2"/>
<text x="514.42" y="104.50" font-size="5.6" fill="#1a1a1a" text-anchor="middle">2</text>
<rect x="526.65" y="82.07" width="24.45" height="41.07" fill="#a6cfa3"/>
<text x="538.88" y="104.50" font-size="5.6" fill="#1a1a1a" text-anchor="middle">360</text>
<rect x="502.20" y="122.34" width="25.25" height="40.27" fill="#dcedd6"/>
<text x="514.42" y="144.78" font-size="5.6" fill="#1a1a1a" text-anchor="middle">2</text>
<rect x="526.65" y="122.34" width="24.45" height="40.27" fill="#5a9d60"/>
<text x="538.88" y="144.78" font-size="5.6" fill="#1a1a1a" text-anchor="middle">698</text>
<path d="M600.00,41.80 L600.00,82.07 L575.55,82.07 Z" fill="#e6f3e2" stroke="#b3b3b3" stroke-width="0.7"/>
<path d="M575.55,41.80 L600.00,41.80 L575.55,82.07 Z" fill="#93c190" stroke="#b3b3b3" stroke-width="0.7"/>
<text x="583.70" y="57.52" font-size="5.6" fill="#1a1a1a" text-anchor="middle">700</text>
<text x="591.85" y="70.95" font-size="5.6" fill="#1a1a1a" text-anchor="middle">57</text>
<path d="M600.00,41.80 L624.45,41.80 L600.00,82.07 Z" fill="#2f7d3d" stroke="#b3b3b3" stroke-width="0.7"/>
<text x="608.15" y="57.52" font-size="5.6" fill="#1a1a1a" text-anchor="middle">187</text>
<path d="M648.90,41.80 L648.90,82.07 L624.45,82.07 Z" fill="#7bb27a" stroke="#b3b3b3" stroke-width="0.7"/>
<path d="M624.45,41.80 L648.90,41.80 L624.45,82.07 Z" fill="#a5cda0" stroke="#b3b3b3" stroke-width="0.7"/>
<text x="632.60" y="57.52" font-size="5.6" fill="#1a1a1a" text-anchor="middle">12</text>
<text x="640.75" y="70.95" font-size="5.6" fill="#1a1a1a" text-anchor="middle">18</text>
<path d="M673.35,41.80 L673.35,82.07 L648.90,82.07 Z" fill="#71ac72" stroke="#b3b3b3" stroke-width="0.7"/>
<path d="M648.90,41.80 L673.35,41.80 L648.90,82.07 Z" fill="#8ec08b" stroke="#b3b3b3" stroke-width="0.7"/>
<text x="657.05" y="57.52" font-size="5.6" fill="#1a1a1a" text-anchor="middle">11</text>
<text x="665.20" y="70.95" font-size="5.6" fill="#1a1a1a" text-anchor="middle">16</text>
<path d="M600.00,82.07 L600.00,122.34 L575.55,122.34 Z" fill="#e9f5e5" stroke="#b3b3b3" stroke-width="0.7"/>
<path d="M575.55,82.07 L600.00,82.07 L575.55,122.34 Z" fill="#c8e3c2" stroke="#b3b3b3" stroke-width="0.7"/>
<text x="583.70" y="97.79" font-size="5.6" fill="#1a1a1a" text-anchor="middle">221</text>
<text x="591.85" y="111.22" font-size="5.6" fill="#1a1a1a" text-anchor="middle">34</text>
<path d="M600.00,82.07 L624.45,82.07 L600.00,122.34 Z" fill="#ddeed7" stroke="#b3b3b3" stroke-width="0.7"/>
<text x="608.15" y="97.79" font-size="5.6" fill="#1a1a1a" text-anchor="middle">20</text>
<path d="M648.90,82.07 L648.90,122.34 L624.45,122.34 Z" fill="#c5e1bf" stroke="#b3b3b3" stroke-width="0.7"/>
<path d="M624.45,82.07 L648.90,82.07 L624.45,122.34 Z" fill="#dcedd6" stroke="#b3b3b3" stroke-width="0.7"/>
<text x="632.60" y="97.79" font-size="5.6" fill="#1a1a1a" text-anchor="middle">3</text>
<text x="640.75" y="111.22" font-size="5.6" fill="#1a1a1a" text-anchor="middle">6</text>
<path d="M673.35,82.07 L673.35,122.34 L648.90,122.34 Z" fill="#d3e8cd" stroke="#b3b3b3" stroke-width="0.7"/>
<path d="M648.90,82.07 L673.35,82.07 L648.90,122.34 Z" fill="#e9f5e5" stroke="#b3b3b3" stroke-width="0.7"/>
<text x="657.05" y="97.79" font-size="5.6" fill="#1a1a1a" text-anchor="middle">1</text>
<text x="665.20" y="111.22" font-size="5.6" fill="#1a1a1a" text-anchor="middle">3</text>
<path d="M600.00,122.34 L600.00,162.61 L575.55,162.61 Z" fill="#cfe6ca" stroke="#b3b3b3" stroke-width="0.7"/>
<path d="M575.55,122.34 L600.00,122.34 L575.55,162.61 Z" fill="#a2cc9e" stroke="#b3b3b3" stroke-width="0.7"/>
<text x="583.70" y="138.06" font-size="5.6" fill="#1a1a1a" text-anchor="middle">566</text>
<text x="591.85" y="151.49" font-size="5.6" fill="#1a1a1a" text-anchor="middle">171</text>
<path d="M648.90,122.34 L648.90,162.61 L624.45,162.61 Z" fill="#bcdcb5" stroke="#b3b3b3" stroke-width="0.7"/>
<path d="M624.45,122.34 L648.90,122.34 L624.45,162.61 Z" fill="#dfeed9" stroke="#b3b3b3" stroke-width="0.7"/>
<text x="632.60" y="138.06" font-size="5.6" fill="#1a1a1a" text-anchor="middle">2</text>
<text x="640.75" y="151.49" font-size="5.6" fill="#1a1a1a" text-anchor="middle">8</text>
<path d="M673.35,122.34 L673.35,162.61 L648.90,162.61 Z" fill="#c7e2c1" stroke="#b3b3b3" stroke-width="0.7"/>
<path d="M648.90,122.34 L673.35,122.34 L648.90,162.61 Z" fill="#eaf5e6" stroke="#b3b3b3" stroke-width="0.7"/>
<text x="657.05" y="138.06" font-size="5.6" fill="#1a1a1a" text-anchor="middle">1</text>
<text x="665.20" y="151.49" font-size="5.6" fill="#1a1a1a" text-anchor="middle">5</text>
<rect x="574.80" y="35.70" width="1.5" height="133.00" fill="#000"/>
<rect x="623.70" y="35.70" width="1.5" height="133.00" fill="#000"/>
<rect x="494.00" y="35.70" width="187.70" height="133.00" fill="none" stroke="#666" stroke-width="0.9"/>
<text x="491.40" y="63.94" font-size="5.77" fill="#4d4d4d" text-anchor="end">Coral reef, F1 = 0.87</text>
<path d="M492.20,61.94 H494.00" stroke="#333" stroke-width="0.6"/>
<text x="491.40" y="104.20" font-size="5.77" fill="#4d4d4d" text-anchor="end">Seagrass, F1 = 0.89</text>
<path d="M492.20,102.20 H494.00" stroke="#333" stroke-width="0.6"/>
<text x="491.40" y="144.47" font-size="5.77" fill="#4d4d4d" text-anchor="end">Mangrove, F1 = 0.95</text>
<path d="M492.20,142.47 H494.00" stroke="#333" stroke-width="0.6"/>
<text transform="translate(435.2,101.8) rotate(-90)" font-size="7" fill="#1a1a1a" text-anchor="middle">Ecosystem type</text>
<path d="M514.42,168.70 V170.90" stroke="#333" stroke-width="0.6"/>
<text transform="translate(516.42,173.70) rotate(-45)" font-size="5.8" fill="#4d4d4d" text-anchor="end"><tspan x="0" y="2.0">Marine renewable</tspan><tspan x="0" y="8.4">energy</tspan></text>
<path d="M538.88,168.70 V170.90" stroke="#333" stroke-width="0.6"/>
<text transform="translate(540.88,173.70) rotate(-45)" font-size="5.8" fill="#4d4d4d" text-anchor="end"><tspan x="0" y="2.0">CO2 removal or</tspan><tspan x="0" y="8.4">storage</tspan></text>
<path d="M563.33,168.70 V170.90" stroke="#333" stroke-width="0.6"/>
<text transform="translate(565.33,173.70) rotate(-45)" font-size="5.8" fill="#4d4d4d" text-anchor="end"><tspan x="0" y="2.0">Increase efficiency</tspan></text>
<path d="M587.77,168.70 V170.90" stroke="#333" stroke-width="0.6"/>
<text transform="translate(589.77,173.70) rotate(-45)" font-size="5.8" fill="#4d4d4d" text-anchor="end"><tspan x="0" y="2.0">Conservation</tspan></text>
<path d="M612.23,168.70 V170.90" stroke="#333" stroke-width="0.6"/>
<text transform="translate(614.23,173.70) rotate(-45)" font-size="5.8" fill="#4d4d4d" text-anchor="end"><tspan x="0" y="2.0">Human−assisted</tspan><tspan x="0" y="8.4">evolution</tspan></text>
<path d="M636.68,168.70 V170.90" stroke="#333" stroke-width="0.6"/>
<text transform="translate(638.68,173.70) rotate(-45)" font-size="5.8" fill="#4d4d4d" text-anchor="end"><tspan x="0" y="2.0">Built infrastructure</tspan><tspan x="0" y="8.4">&amp; technology</tspan></text>
<path d="M661.12,168.70 V170.90" stroke="#333" stroke-width="0.6"/>
<text transform="translate(663.12,173.70) rotate(-45)" font-size="5.8" fill="#4d4d4d" text-anchor="end"><tspan x="0" y="2.0">Socio−institutional</tspan></text>
<rect x="532.4" y="228.4" width="102.6" height="70" fill="none" stroke="#000" stroke-width="0.9"/>
<path d="M583.7,228.4 V298.4 M583.7,298.4 L635,228.4" stroke="#000" stroke-width="0.9" fill="none"/>
<text x="558.00" y="265.90" font-size="5.8" fill="#000" text-anchor="middle" stroke="#000" stroke-width="0.22">Mitigation</text>
<text x="601.00" y="250.00" font-size="5.8" fill="#000" text-anchor="middle" stroke="#000" stroke-width="0.22">Natural</text>
<text x="600.80" y="257.80" font-size="5.8" fill="#000" text-anchor="middle" stroke="#000" stroke-width="0.22">resilience</text>
<text x="617.50" y="273.00" font-size="5.8" fill="#000" text-anchor="middle" stroke="#000" stroke-width="0.22">Societal</text>
<text x="618.20" y="281.00" font-size="5.8" fill="#000" text-anchor="middle" stroke="#000" stroke-width="0.22">adaptation</text>
</g>
</svg>
</body></html>
